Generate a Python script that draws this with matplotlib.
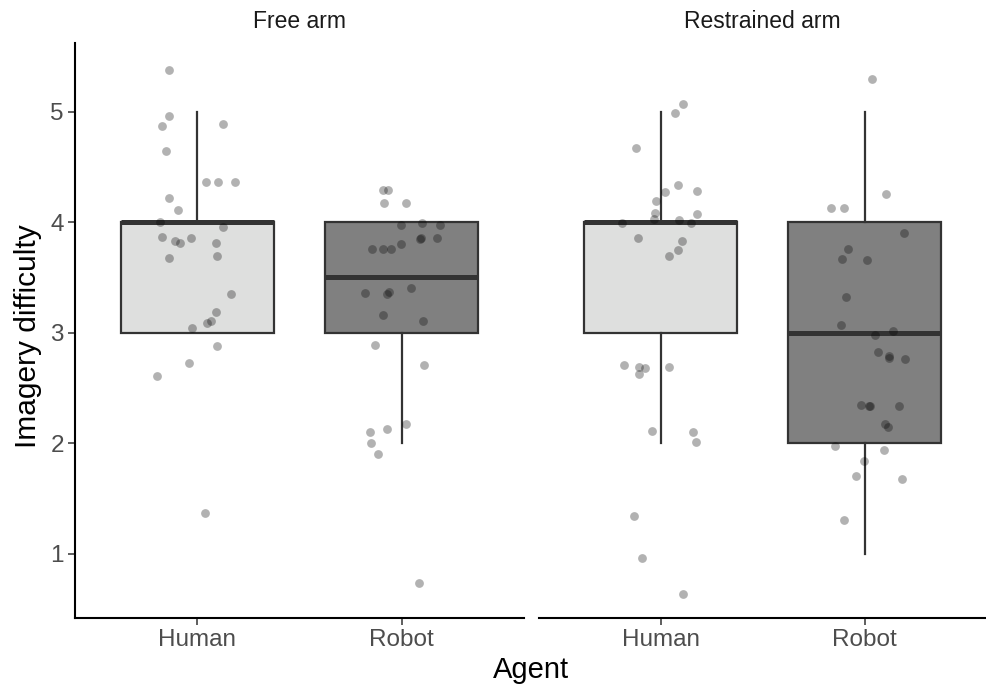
import matplotlib
matplotlib.use("Agg")
import matplotlib.pyplot as plt

plt.rcParams["font.family"] = ["Liberation Sans", "DejaVu Sans"]

facets = ["Free arm", "Restrained arm"]
agents = ["Human", "Robot"]
yticks = [1, 2, 3, 4, 5]

# box statistics per facet: [Human, Robot] -> (whislo, q1, med, q3, whishi)
free_box = [(3, 3, 4, 4, 5), (2, 3, 3.5, 4, 4)]
restrained_box = [(2, 3, 4, 4, 5), (1, 2, 3, 4, 5)]

# jittered points (horizontal offset from category, value)
free_human_dx = [-0.139, -0.141, -0.172, 0.125, -0.154, 0.044, 0.100, 0.185, -0.138, -0.096,
                 -0.183, 0.123, -0.173, -0.112, -0.084, -0.032, 0.089, -0.139, 0.094, 0.164,
                 0.091, 0.065, 0.047, -0.029, 0.097, -0.041, -0.196, 0.037]
free_human_y = [5.38, 4.96, 4.87, 4.89, 4.64, 4.36, 4.36, 4.36, 4.22, 4.11,
                4.00, 3.96, 3.87, 3.83, 3.81, 3.86, 3.81, 3.68, 3.69, 3.35,
                3.19, 3.11, 3.09, 3.04, 2.88, 2.73, 2.61, 1.37]

free_robot_dx = [-0.091, -0.065, -0.088, 0.024, -0.003, 0.099, 0.190, 0.096, 0.091, 0.175,
                 -0.146, -0.091, -0.052, -0.002, -0.177, -0.071, -0.060, 0.044, -0.093, 0.107,
                 -0.128, 0.109, 0.021, -0.073, -0.157, -0.148, -0.117, 0.084]
free_robot_y = [4.29, 4.29, 4.17, 4.17, 3.97, 3.99, 3.97, 3.86, 3.85, 3.86,
                3.76, 3.76, 3.76, 3.80, 3.36, 3.35, 3.37, 3.40, 3.16, 3.11,
                2.89, 2.71, 2.17, 2.13, 2.10, 2.00, 1.90, 0.74]

restrained_human_dx = [0.108, 0.072, -0.124, 0.085, 0.021, 0.178, -0.023, -0.028, -0.031, 0.178,
                       -0.189, 0.091, 0.147, -0.114, 0.106, 0.083, 0.041, -0.183, -0.108, -0.078,
                       -0.109, 0.041, -0.042, 0.158, 0.175, -0.134, -0.090, 0.111]
restrained_human_y = [5.07, 4.99, 4.67, 4.34, 4.27, 4.28, 4.19, 4.08, 4.03, 4.07,
                      3.99, 4.02, 3.99, 3.86, 3.83, 3.75, 3.69, 2.71, 2.69, 2.68,
                      2.63, 2.69, 2.11, 2.10, 2.01, 1.34, 0.96, 0.64]

restrained_robot_dx = [0.038, 0.104, -0.165, -0.103, 0.191, -0.083, -0.111, 0.013, -0.093, -0.116,
                       0.139, 0.052, 0.067, 0.117, 0.119, 0.197, -0.020, 0.020, 0.024, 0.170,
                       0.098, 0.116, -0.148, 0.095, -0.003, -0.044, 0.183, -0.103]
restrained_robot_y = [5.29, 4.25, 4.13, 4.13, 3.90, 3.76, 3.67, 3.66, 3.32, 3.07,
                      3.02, 2.98, 2.83, 2.79, 2.77, 2.76, 2.35, 2.34, 2.34, 2.34,
                      2.17, 2.15, 1.98, 1.94, 1.84, 1.70, 1.68, 1.31]

box_fill = ["#dedfde", "#808080"]
dark = "#333333"

panels = [
    (free_box, [(free_human_dx, free_human_y), (free_robot_dx, free_robot_y)]),
    (restrained_box, [(restrained_human_dx, restrained_human_y),
                      (restrained_robot_dx, restrained_robot_y)]),
]

fig = plt.figure(figsize=(9.87, 6.88), dpi=100)
W, H = 987, 688
rects = [(75, 43, 524, 618), (538.5, 43, 987, 618)]

for i, ((box, pts), (x0, y0, x1, y1)) in enumerate(zip(panels, rects)):
    ax = fig.add_axes([x0 / W, 1 - y1 / H, (x1 - x0) / W, (y1 - y0) / H])
    stats = [dict(whislo=b[0], q1=b[1], med=b[2], q3=b[3], whishi=b[4], label=a)
             for b, a in zip(box, agents)]
    bp = ax.bxp(stats, positions=[1, 2], widths=0.75, patch_artist=True,
                showfliers=False, showcaps=False,
                boxprops=dict(edgecolor=dark, linewidth=1.6),
                whiskerprops=dict(color=dark, linewidth=1.6),
                medianprops=dict(color=dark, linewidth=3.6, solid_capstyle="butt"))
    for patch, c in zip(bp["boxes"], box_fill):
        patch.set_facecolor(c)
    for k, (dx, yv) in enumerate(pts):
        ax.scatter([k + 1 + d for d in dx], yv, s=40, color="black", alpha=0.3,
                   linewidths=0, zorder=5)

    ax.set_xlim(0.4, 2.6)
    ax.set_ylim(0.42, 5.62)
    ax.set_xticks([1, 2])
    ax.set_xticklabels(agents, fontsize=17.5, color="#4d4d4d")
    ax.tick_params(axis="both", length=5, width=1.1, color=dark, pad=3)
    for s in ["top", "right"]:
        ax.spines[s].set_visible(False)
    ax.spines["bottom"].set_linewidth(1.5)
    if i == 0:
        ax.set_yticks(yticks)
        ax.set_yticklabels([str(t) for t in yticks], fontsize=17.5, color="#4d4d4d")
        ax.spines["left"].set_linewidth(1.5)
    else:
        ax.spines["left"].set_visible(False)
        ax.set_yticks([])
    fig.text((x0 + x1) / 2 / W, 1 - 22 / H, facets[i], ha="center", va="center",
             fontsize=16.5, color="#1a1a1a")

fig.text((75 + 987) / 2 / W, 1 - 670 / H, "Agent", ha="center", va="center", fontsize=21)
fig.text(28 / W, 1 - 336 / H, "Imagery difficulty", ha="center", va="center",
         rotation=90, fontsize=21.5)

fig.savefig("out.png", dpi=100)
